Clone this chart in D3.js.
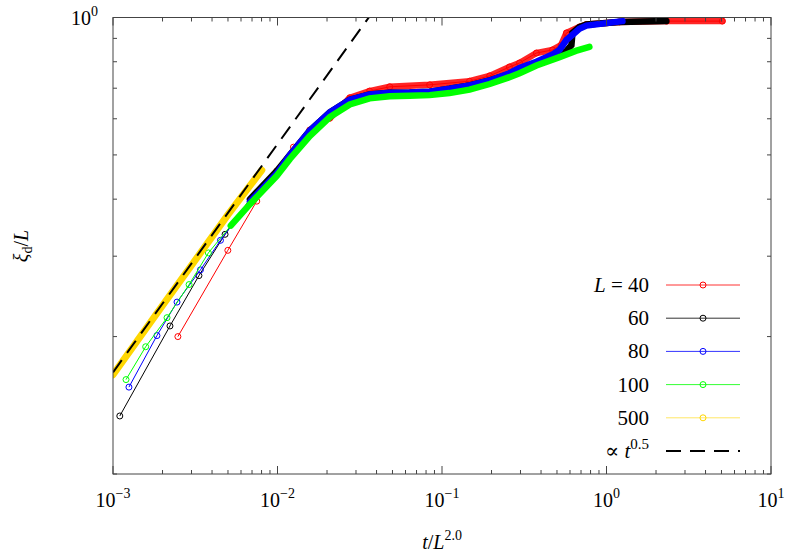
<!DOCTYPE html>
<html><head><meta charset="utf-8">
<script src="https://cdn.jsdelivr.net/npm/d3@7"></script>
<style>body{margin:0;background:#fff}text{font-family:"Liberation Serif","DejaVu Serif",serif}</style>
</head><body><svg id="c" width="789" height="559"></svg>
<script>
const seriesNames = ["L = 40","60","80","100","500"];
const seriesColors = ["#ff0000","#000000","#0000ff","#00ff00","#ffd700"];
const s40 = [[0.00248,0.200],[0.00499,0.309],[0.00748,0.396],[0.0099,0.461],[0.0125,0.52],[0.0157,0.567],[0.0208,0.602],[0.0275,0.667],[0.0363,0.69],[0.0481,0.705],[0.0841,0.712],[0.147,0.725],[0.195,0.745],[0.257,0.779],[0.296,0.795],[0.375,0.836],[0.47,0.849],[0.53,0.87],[0.571,0.925],[0.684,0.953],[0.755,0.965],[1.2,0.978],[2.31,0.982],[5.06,0.982]];
const s60 = [[0.0011,0.134],[0.00222,0.211],[0.00333,0.272],[0.0048,0.335],[0.0068,0.40],[0.0099,0.461],[0.0119,0.50],[0.0157,0.565],[0.0208,0.62],[0.0275,0.66],[0.0363,0.678],[0.0481,0.684],[0.0635,0.685],[0.0841,0.688],[0.111,0.698],[0.147,0.71],[0.195,0.728],[0.257,0.752],[0.296,0.768],[0.375,0.795],[0.47,0.82],[0.571,0.845],[0.612,0.87],[0.621,0.925],[0.684,0.953],[0.755,0.965],[1.2,0.978],[2.31,0.982]];
const s80 = [[0.00125,0.155],[0.00185,0.201],[0.00245,0.238],[0.0034,0.28],[0.0045,0.325],[0.0068,0.395],[0.0099,0.455],[0.0119,0.50],[0.0157,0.565],[0.0208,0.62],[0.0275,0.66],[0.0363,0.678],[0.0481,0.684],[0.0635,0.685],[0.0841,0.688],[0.111,0.698],[0.147,0.71],[0.195,0.728],[0.257,0.755],[0.296,0.775],[0.375,0.80],[0.47,0.83],[0.518,0.849],[0.571,0.893],[0.684,0.945],[0.755,0.96],[1.25,0.982]];
const s100 = [[0.0012,0.161],[0.00158,0.190],[0.00213,0.220],[0.0029,0.26],[0.0038,0.305],[0.0052,0.35],[0.0068,0.39],[0.0099,0.45],[0.0119,0.49],[0.0157,0.55],[0.0208,0.605],[0.0275,0.645],[0.0363,0.665],[0.0481,0.672],[0.0635,0.674],[0.0841,0.676],[0.111,0.683],[0.147,0.695],[0.195,0.715],[0.257,0.74],[0.296,0.755],[0.375,0.785],[0.518,0.819],[0.65,0.845],[0.787,0.862]];
const s500 = [[0.001,0.165],[0.002,0.234],[0.00295,0.284],[0.005,0.37],[0.00803,0.463]];
const denseFrom = [0.02,0.005,0.0055,0.0046,0.0];
const allSeries = [s40,s60,s80,s100,s500];
const powC = 5.28, powExp = 0.5;
const xTickVals = [1e-3,1e-2,1e-1,1e0,1e1];
const xTickExp = ["−3","−2","−1","0","1"];

const svg = d3.select("#c");
const L=113,R=771,T=17.5,B=474;
const x = d3.scaleLog().domain([1e-3,1e1]).range([L,R]);
const y = d3.scaleLog().domain([0.1,1]).range([B,T]);
svg.append("clipPath").attr("id","cp").append("rect").attr("x",L).attr("y",T).attr("width",R-L).attr("height",B-T);
const g = svg.append("g").attr("clip-path","url(#cp)");
const line = d3.line().x(d=>x(d[0])).y(d=>y(d[1]));

// draw series in order: 40, 60, 80, 100, 500 ... overlap order like reference
const order=[0,1,2,3,4];
order.forEach(i=>{
  const d=allSeries[i], col=seriesColors[i];
  g.append("path").attr("d",line(d)).attr("fill","none").attr("stroke",col).attr("stroke-width",1);
  const dense=d.filter(p=>p[0]>=denseFrom[i]);
  g.append("path").attr("d",line(dense)).attr("fill","none").attr("stroke",col).attr("stroke-width",i==4?7:6.5).attr("stroke-linecap","round").attr("opacity",i==0?0.85:1);
  g.selectAll(null).data(d.filter(p=>p[0]<denseFrom[i]||i==0)).enter().append("circle")
    .attr("cx",p=>x(p[0])).attr("cy",p=>y(p[1])).attr("r",3).attr("fill","none").attr("stroke",col).attr("stroke-width",1);
});
const pw=[1e-3,0.05].map(t=>[t,powC*Math.pow(t,powExp)]);
g.append("path").attr("d",line(pw)).attr("fill","none").attr("stroke","#000").attr("stroke-width",2).attr("stroke-dasharray","15,9");

// frame & ticks
const fc="#444";
svg.append("rect").attr("x",L).attr("y",T).attr("width",R-L).attr("height",B-T).attr("fill","none").attr("stroke",fc).attr("stroke-width",1);
const xt=[];for(let e=-3;e<1;e++)for(let m=1;m<10;m++)xt.push([m*Math.pow(10,e),m==1]);xt.push([10,true]);
xt.forEach(([v,maj])=>{const px=x(v),l=maj?8:4;
  svg.append("line").attr("x1",px).attr("x2",px).attr("y1",B).attr("y2",B-l).attr("stroke",fc);
  svg.append("line").attr("x1",px).attr("x2",px).attr("y1",T).attr("y2",T+l).attr("stroke",fc);});
for(let m=1;m<=10;m++){const py=y(m/10),l=(m==10)?8:4;
  svg.append("line").attr("x1",L).attr("x2",L+l).attr("y1",py).attr("y2",py).attr("stroke",fc);
  svg.append("line").attr("x1",R).attr("x2",R-l).attr("y1",py).attr("y2",py).attr("stroke",fc);}
xTickVals.forEach((v,i)=>{const t=svg.append("text").attr("x",x(v)).attr("y",507).attr("text-anchor","middle").attr("font-size",20);
  t.append("tspan").text("10");t.append("tspan").attr("dy",-9).attr("font-size",14).text(xTickExp[i]);});
const yt=svg.append("text").attr("x",98).attr("y",25).attr("text-anchor","end").attr("font-size",20);
yt.append("tspan").text("10");yt.append("tspan").attr("dy",-9).attr("font-size",14).text("0");
// axis labels
const xl=svg.append("text").attr("x",442).attr("y",549).attr("text-anchor","middle").attr("font-size",20);
xl.append("tspan").attr("font-style","italic").text("t");xl.append("tspan").text("/");
xl.append("tspan").attr("font-style","italic").text("L");xl.append("tspan").attr("dy",-9).attr("font-size",14).text("2.0");
const yl=svg.append("text").attr("transform","translate(28,246) rotate(-90)").attr("text-anchor","middle").attr("font-size",20);
yl.append("tspan").attr("font-style","italic").text("ξ");yl.append("tspan").attr("dy",4).attr("font-size",14).text("d");
yl.append("tspan").attr("dy",-4).text("/");yl.append("tspan").attr("font-style","italic").text("L");

// legend
const ly0=285, ldy=33.2;
seriesNames.forEach((n,i)=>{const yy=ly0+i*ldy;
  const t=svg.append("text").attr("x",649).attr("y",yy+7).attr("text-anchor","end").attr("font-size",21);
  if(i==0){t.append("tspan").attr("font-style","italic").text("L");t.append("tspan").text(" = 40");} else t.text(n);
  svg.append("line").attr("x1",666).attr("x2",740).attr("y1",yy).attr("y2",yy).attr("stroke",seriesColors[i]).attr("stroke-width",1).attr("opacity",i==4?0.6:0.8);
  svg.append("circle").attr("cx",703).attr("cy",yy).attr("r",3).attr("fill","none").attr("stroke",seriesColors[i]);});
const yy=ly0+5*ldy;
const pt=svg.append("text").attr("x",649).attr("y",yy+7).attr("text-anchor","end").attr("font-size",21);
pt.append("tspan").text("∝ ");pt.append("tspan").attr("font-style","italic").text("t");pt.append("tspan").attr("dy",-9).attr("font-size",15).text("0.5");
svg.append("line").attr("x1",666).attr("x2",740).attr("y1",yy).attr("y2",yy).attr("stroke","#000").attr("stroke-width",2).attr("stroke-dasharray","15,9");
</script></body></html>
